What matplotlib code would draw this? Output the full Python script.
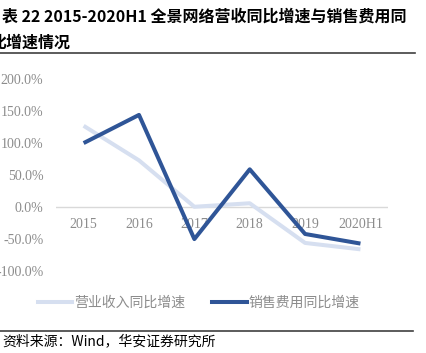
import matplotlib.pyplot as plt
from matplotlib.lines import Line2D

plt.rcParams['font.family'] = ['Noto Sans CJK SC', 'DejaVu Sans']

anos = ["2015", "2016", "2017", "2018", "2019", "2020H1"]
receita = [127, 73, 0.5, 6, -56, -66]
vendas = [100, 144, -50, 59, -42, -57]
y_ticks = [-100, -50, 0, 50, 100, 150, 200]

cor_clara = "#D6DFF0"
cor_escura = "#2F5597"
cinza = "#8C8C8C"

fig = plt.figure(figsize=(4.27, 3.53), dpi=100)
ax = fig.add_axes([0.131, 0.232, 0.778, 0.544])

x = list(range(len(anos)))
ax.plot(x, receita, color=cor_clara, lw=2.9, solid_capstyle="butt", zorder=2)
ax.plot(x, vendas, color=cor_escura, lw=2.9, solid_capstyle="butt", zorder=3)
ax.axhline(0, color="#D9D9D9", lw=1, zorder=1)

ax.set_xlim(-0.5, 5.5)
ax.set_ylim(-100, 200)
ax.set_yticks(y_ticks)
ax.set_yticklabels([f"{v:.1f}%" for v in y_ticks], family="Liberation Serif",
                   fontsize=10, color=cinza)
ax.set_xticks([])
ax.tick_params(axis="y", length=0, pad=9)
for s in ax.spines.values():
    s.set_visible(False)

for i, a in enumerate(anos):
    ax.annotate(a, (i, 0), xytext=(0, -8), textcoords="offset points",
                ha="center", va="top", family="Liberation Serif",
                fontsize=10, color=cinza, zorder=1)

# titulo
fig.text(0.005, 0.952, "表 22 2015-2020H1 全景网络营收同比增速与销售费用同",
         fontsize=11.5, fontweight="bold", va="center", ha="left")
fig.text(-0.022, 0.878, "比增速情况", fontsize=11.5, fontweight="bold",
         va="center", ha="left")
fig.add_artist(Line2D([0, 0.972], [0.85, 0.85], color="#404040", lw=1.2))

# legenda
h1 = Line2D([], [], color=cor_clara, lw=2.9)
h2 = Line2D([], [], color=cor_escura, lw=2.9)
fig.legend([h1, h2], ["营业收入同比增速", "销售费用同比增速"],
           loc="center", bbox_to_anchor=(0.465, 0.142), ncol=2, frameon=False,
           handlelength=2.5, handletextpad=0.1, columnspacing=2.0,
           prop={"size": 10}, labelcolor=cinza)

fig.add_artist(Line2D([0, 0.968], [0.063, 0.063], color="#404040", lw=1.2))
fig.text(0.005, 0.032, "资料来源：Wind，华安证券研究所", fontsize=10,
         va="center", ha="left")

fig.savefig("out.png", dpi=100)
